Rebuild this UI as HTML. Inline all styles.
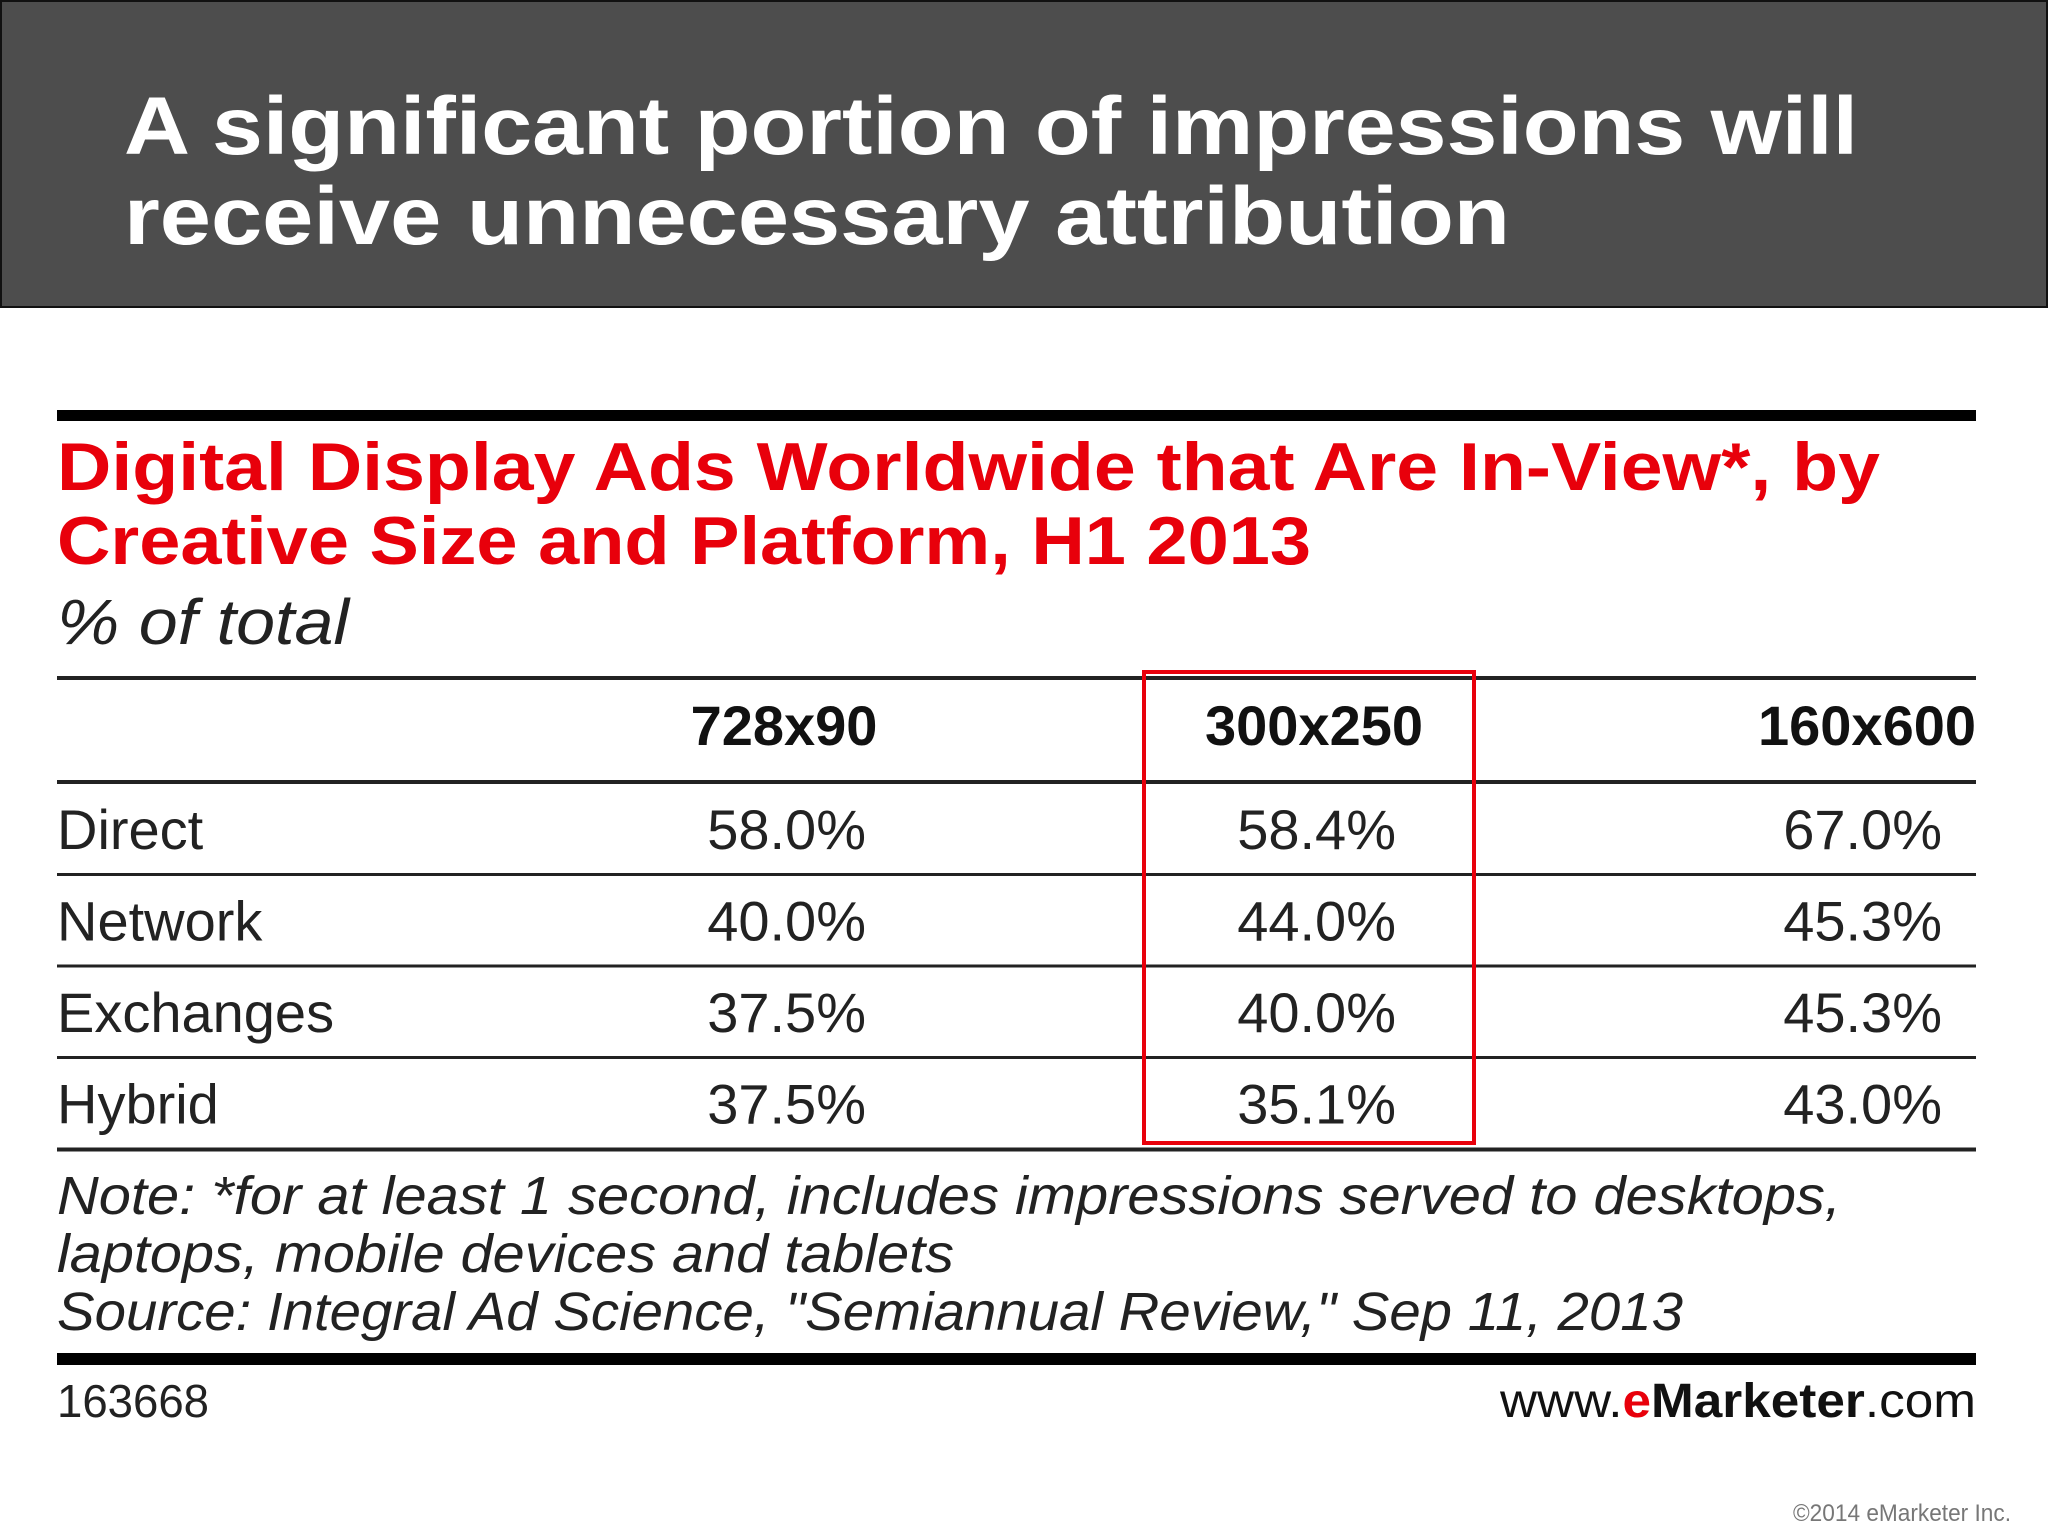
<!DOCTYPE html>
<html><head><meta charset="utf-8"><style>
html,body{margin:0;padding:0;background:#fff;}
svg{display:block;}
</style></head><body>
<svg id="chart" width="2048" height="1536" viewBox="0 0 2048 1536" xmlns="http://www.w3.org/2000/svg" font-family="Liberation Sans, sans-serif">
  <rect x="1" y="1" width="2046" height="306" fill="#4d4d4d" stroke="#111" stroke-width="2"/>
  <text x="124" y="154" font-size="82" font-weight="bold" fill="#fff" textLength="1734" lengthAdjust="spacingAndGlyphs">A significant portion of impressions will</text>
  <text x="124" y="244" font-size="82" font-weight="bold" fill="#fff" textLength="1386" lengthAdjust="spacingAndGlyphs">receive unnecessary attribution</text>

  <rect x="57" y="410" width="1919" height="11" fill="#000"/>
  <text x="57" y="490" font-size="68" font-weight="bold" fill="#e8000b" textLength="1823" lengthAdjust="spacingAndGlyphs">Digital Display Ads Worldwide that Are In-View*, by</text>
  <text x="57" y="564" font-size="68" font-weight="bold" fill="#e8000b" textLength="1254" lengthAdjust="spacingAndGlyphs">Creative Size and Platform, H1 2013</text>
  <text x="57" y="644" font-size="64" font-style="italic" fill="#222" textLength="292" lengthAdjust="spacingAndGlyphs">% of total</text>
  <rect x="57" y="676" width="1919" height="4" fill="#222"/>

  <g id="table"></g>

  <rect x="1144" y="672" width="330" height="471" fill="none" stroke="#e8000b" stroke-width="4"/>

  <text x="57" y="1214" font-size="54" font-style="italic" fill="#222" textLength="1784" lengthAdjust="spacingAndGlyphs">Note: *for at least 1 second, includes impressions served to desktops,</text>
  <text x="57" y="1272" font-size="54" font-style="italic" fill="#222" textLength="897" lengthAdjust="spacingAndGlyphs">laptops, mobile devices and tablets</text>
  <text x="57" y="1330" font-size="54" font-style="italic" fill="#222" textLength="1626" lengthAdjust="spacingAndGlyphs">Source: Integral Ad Science, "Semiannual Review," Sep 11, 2013</text>
  <rect x="57" y="1353" width="1919" height="12" fill="#000"/>
  <text x="57" y="1417" font-size="46" fill="#222" textLength="152" lengthAdjust="spacingAndGlyphs">163668</text>
  <text x="1976" y="1417" font-size="48" fill="#111" text-anchor="end" textLength="476" lengthAdjust="spacingAndGlyphs">www.<tspan fill="#e8000b" font-weight="bold">e</tspan><tspan font-weight="bold">Marketer</tspan>.com</text>
  <text x="2011" y="1521" font-size="24" fill="#777" text-anchor="end" textLength="218" lengthAdjust="spacingAndGlyphs">©2014 eMarketer Inc.</text>
</svg>
<script>
const columns = ["728x90", "300x250", "160x600"];
const rows = ["Direct", "Network", "Exchanges", "Hybrid"];
const values728 = [58.0, 40.0, 37.5, 37.5];
const values300 = [58.4, 44.0, 40.0, 35.1];
const values160 = [67.0, 45.3, 45.3, 43.0];

const NS = "http://www.w3.org/2000/svg";
const g = document.getElementById('table');
const series = [values728, values300, values160];
const headerX = [784, 1314, 1976];
const headerAnchor = ["middle", "middle", "end"];
const valueRight = [866, 1396, 1942];
const rowY = i => 849 + i * 91.5;
function t(x, y, s, attrs) {
  const e = document.createElementNS(NS, 'text');
  e.setAttribute('x', x); e.setAttribute('y', y);
  for (const k in attrs) e.setAttribute(k, attrs[k]);
  e.textContent = s; g.appendChild(e); return e;
}
columns.forEach((c, j) => {
  const e = t(headerX[j], 745, c, {'font-size': 56, 'font-weight': 'bold', fill: '#111', 'text-anchor': headerAnchor[j]});
  
  
});
function rule(y, h) {
  const r = document.createElementNS(NS, 'rect');
  r.setAttribute('x', 57); r.setAttribute('y', y); r.setAttribute('width', 1919); r.setAttribute('height', h);
  r.setAttribute('fill', '#222');
  
  
  g.appendChild(r);
}
rule(780, 4);
rows.forEach((r, i) => {
  const y = rowY(i);
  const lab = t(57, y, r, {'font-size': 56, fill: '#222'});
  
  
  series.forEach((vals, j) => {
    const e = t(valueRight[j], y, vals[i].toFixed(1) + '%', {'font-size': 56, fill: '#222', 'text-anchor': 'end'});
    
    
  });
  rule(y + 24, i === rows.length - 1 ? 4 : 3);
});
</script>
</body></html>
